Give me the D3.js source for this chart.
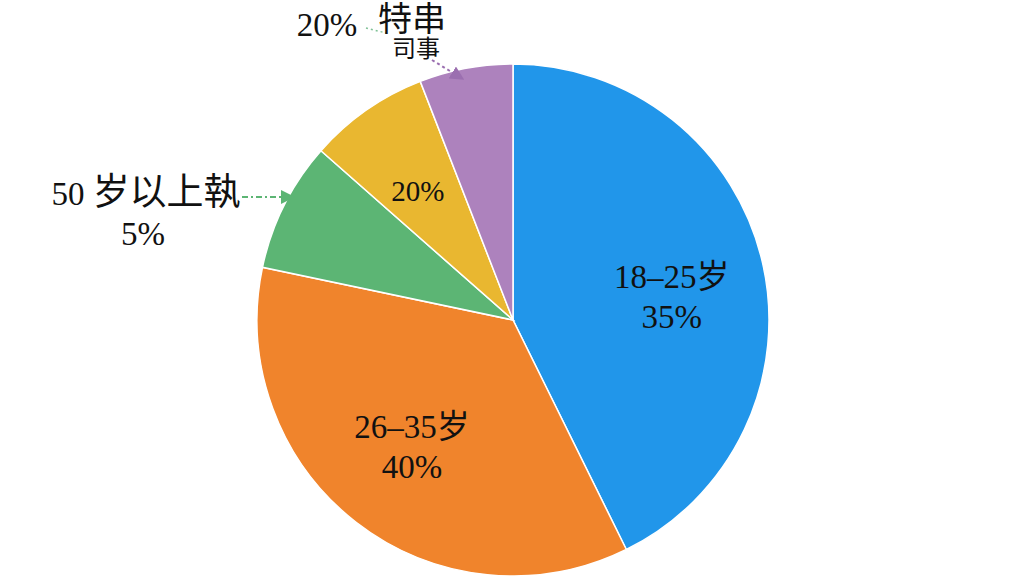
<!DOCTYPE html>
<html>
<head>
<meta charset="utf-8">
<script src="https://cdn.jsdelivr.net/npm/d3@7"></script>
<style>
  body { margin: 0; background: #fff; }
  svg text { font-family: "Liberation Serif", "Noto Sans CJK SC", serif; fill: #111; }
</style>
</head>
<body>
<div id="chart"></div>
<script>
var svgWidth = 1024;
var svgHeight = 576;

// slice shares (clockwise from 12 o'clock)
var categories = ["18-25岁", "26-35岁", "50岁以上", "其他", "其他2"];
var shares = [42.7, 35.6, 8.2, 7.6, 5.9];
var colors = ["#2196ea", "#f0842c", "#5cb574", "#e9b730", "#ad82bd"];
// the label texts printed on the picture
var labelLines = [
    ["18–25岁", "35%"],
    ["26–35岁", "40%"],
    ["50", "岁以上執", "5%"],
    ["20%"],
    ["20%"]
];

var cx = 513, cy = 320, radius = 256;

var svg = d3.select("#chart")
    .append("svg")
    .attr("width", svgWidth)
    .attr("height", svgHeight);

var defs = svg.append("defs");
function marker(id, color) {
    defs.append("marker")
        .attr("id", id)
        .attr("viewBox", "0 0 10 10")
        .attr("refX", 8).attr("refY", 5)
        .attr("markerWidth", 7).attr("markerHeight", 7)
        .attr("orient", "auto")
        .append("path")
        .attr("d", "M0,0L10,5L0,10z")
        .attr("fill", color);
}
marker("arrGreen", "#5cb574");
marker("arrPurple", "#9b6fb0");

var pieGroup = svg.append("g").attr("transform", `translate(${cx},${cy})`);

var pie = d3.pie().sort(null).value(d => d);
var arc = d3.arc().innerRadius(0).outerRadius(radius);
var arcs = pie(shares);

pieGroup.selectAll("path")
    .data(arcs)
    .enter()
    .append("path")
    .attr("d", arc)
    .attr("fill", (d, i) => colors[i])
    .attr("stroke", "#fff")
    .attr("stroke-width", 1.5);

// inside labels
function insideLabel(i, r, lines, size, dx, dy) {
    var a = (arcs[i].startAngle + arcs[i].endAngle) / 2;
    var x = Math.sin(a) * r + dx, y = -Math.cos(a) * r + dy;
    var t = pieGroup.append("text")
        .attr("text-anchor", "middle")
        .attr("font-size", size);
    lines.forEach(function(s, k) {
        t.append("tspan")
            .attr("x", x)
            .attr("y", y + (k - (lines.length - 1) / 2) * 40 + 11)
            .text(s);
    });
}
insideLabel(0, 163, labelLines[0], 33, 0, 14);
insideLabel(1, 165, labelLines[1], 33, 0, -3);
insideLabel(3, 142, labelLines[3], 29, -14, -14);

// outside label: 50岁以上
var g = arcs[2];
var ga = (g.startAngle + g.endAngle) / 2;
var gx = cx + Math.sin(ga) * radius;
svg.append("line")
    .attr("x1", 242).attr("y1", 197)
    .attr("x2", gx + 8).attr("y2", 197)
    .attr("stroke", "#5cb574").attr("stroke-width", 2)
    .attr("stroke-dasharray", "6,3,2,3")
    .attr("marker-end", "url(#arrGreen)");
var ol = svg.append("text").attr("text-anchor", "middle");
ol.append("tspan").attr("x", 146).attr("y", 205).attr("font-size", 33).text(labelLines[2][0] + " ");
ol.append("tspan").attr("font-size", 37).text(labelLines[2][1]);
svg.append("text").attr("text-anchor", "middle").attr("font-size", 33)
    .attr("x", 143).attr("y", 245).text(labelLines[2][2]);

// outside label: purple slice
var p = arcs[4];
var pa = (p.startAngle + p.endAngle) / 2;
var px = cx + Math.sin(pa) * radius, py = cy - Math.cos(pa) * radius;
svg.append("line")
    .attr("x1", 432).attr("y1", 60)
    .attr("x2", px - 4).attr("y2", py + 10)
    .attr("stroke", "#9b6fb0").attr("stroke-width", 2)
    .attr("stroke-dasharray", "3,3")
    .attr("marker-end", "url(#arrPurple)");
svg.append("line")
    .attr("x1", 366).attr("y1", 28)
    .attr("x2", 386).attr("y2", 33)
    .attr("stroke", "#7fc196").attr("stroke-width", 1.5)
    .attr("stroke-dasharray", "2,3");
svg.append("text").attr("x", 327).attr("y", 36)
    .attr("text-anchor", "middle").attr("font-size", 33)
    .text(labelLines[4][0]);
// garbled overlapping glyphs as in the picture
svg.append("text").attr("x", 378).attr("y", 31).attr("font-size", 34).text("特串");
svg.append("text").attr("x", 392).attr("y", 57).attr("font-size", 24).text("司事");
</script>
</body>
</html>
